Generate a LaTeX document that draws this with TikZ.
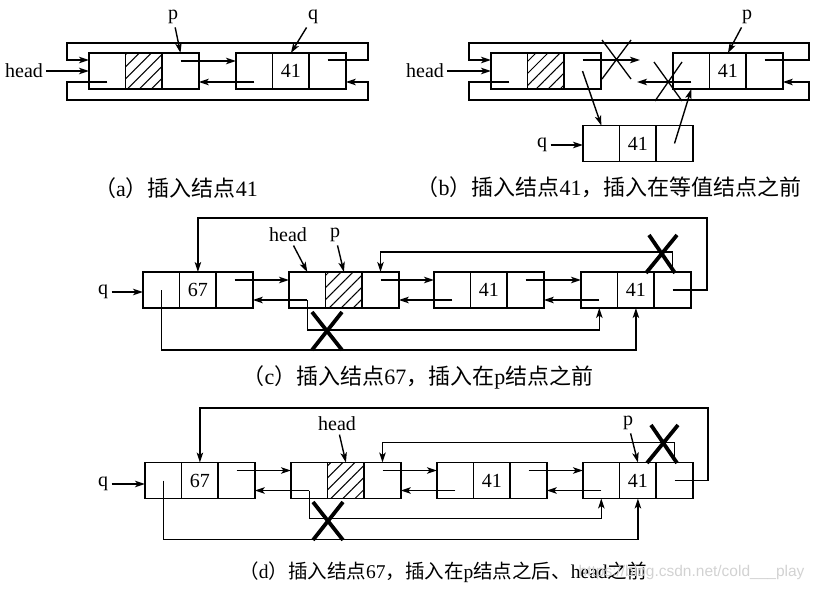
\documentclass[tikz,border=0pt]{standalone}
\usepackage{fontspec}
\setmainfont{Liberation Serif}
\setsansfont{Liberation Sans}
\newfontfamily\cjk{Noto Sans CJK SC}
\usetikzlibrary{positioning,arrows.meta,patterns.meta}

\tikzset{
  cell/.style={draw, line width=1.5pt, minimum width=36.6pt, minimum height=36pt, inner sep=0pt, outer sep=0pt},
  hatch/.style={pattern={Lines[angle=45,distance=8.5pt,line width=1pt]}},
  ptr/.style={line width=1.4pt, -{Stealth[length=10pt,width=6.5pt,inset=2.5pt]}},
  thincross/.style={line width=1.3pt},
  thickcross/.style={line width=3.8pt},
  caption/.style={font=\fontsize{22}{26}\selectfont}
}
\newcommand{\zh}[1]{{\cjk #1}}
% one list node: left cell, data cell, right cell
\newcommand{\dlnode}[5][]{%
  \node[cell, anchor=west] (#2-l) at (#3,#4) {};
  \node[cell, right=0pt of #2-l, #1] (#2-m) {#5};
  \node[cell, right=0pt of #2-m] (#2-r) {};
}

\begin{document}
\begin{tikzpicture}[x=1pt, y=-1pt, font=\fontsize{20}{24}\selectfont]
    \useasboundingbox (0,0) rectangle (816,589);

    % (a) Nodes
    \dlnode[hatch]{ha}{89}{71}{}
    \dlnode{qa}{236}{71}{41}
    \node (heada) at (24,71) {head};
    \node (pa) at (173,17) {p};
    \node (qla) at (313,17) {q};
    \coordinate (a1) at (368,43);
    \coordinate (a2) at (67,60);
    \coordinate (a3) at (67,100);
    \coordinate (a4) at (368,82);

    % (a) Edges
    \draw[ptr] (heada) -- (ha-l);
    \draw[ptr] (pa) -- (ha-r.north);
    \draw[ptr] (qla) -- (qa-m.north);
    \draw[ptr] ([yshift=10pt]ha-r.center) -- ([yshift=10pt]qa-l.west);
    \draw[ptr] ([yshift=-11pt]qa-l.center) -- ([yshift=-11pt]ha-r.east);
    \draw[ptr] ([yshift=11pt]qa-r.center) -| (a1) -| (a2) -- ([yshift=11pt]ha-l.west);
    \draw[ptr] ([yshift=-11pt]ha-l.center) -| (a3) -| (a4) -- ([yshift=-11pt]qa-r.east);
    \node[caption] (capa) at (176,188) {\zh{（}a\zh{）插入结点}41};

    % (b) Nodes
    \dlnode[hatch]{hb}{491}{71}{}
    \dlnode{pb}{673}{71}{41}
    \dlnode{qb}{583}{143.5}{41}
    \node (headb) at (425,71) {head};
    \node (plb) at (747,17) {p};
    \node (qlb) at (542,145) {q};
    \coordinate (b1) at (809,43);
    \coordinate (b2) at (469,60);
    \coordinate (b3) at (469,100);
    \coordinate (b4) at (809,82);
    \coordinate (nxb) at (640,60);
    \coordinate (pvb) at (637,82);

    % (b) Edges
    \draw[ptr] (headb) -- (hb-l);
    \draw[ptr] (plb) -- (pb-m.north);
    \draw[ptr] (qlb.east) -- (qb-l.west |- qlb.east);
    \draw[ptr] ([yshift=11pt]pb-r.center) -| (b1) -| (b2) -- ([yshift=11pt]hb-l.west);
    \draw[ptr] ([yshift=-11pt]hb-l.center) -| (b3) -| (b4) -- ([yshift=-11pt]pb-r.east);
    \draw[ptr] ([yshift=11pt]hb-r.center) -- (nxb);
    \draw[ptr] ([yshift=-11pt]pb-l.center) -- (pvb);
    \draw[ptr] (hb-r.center) -- (qb-l.north);
    \draw[ptr] (qb-r.center) -- (pb-l.south);
    \draw[thincross] (602,40) -- (631,79) (631,40) -- (602,79);
    \draw[thincross] (654,62) -- (682,101) (682,62) -- (655,101);
    \node[caption] (capb) at (609,187) {\zh{（}b\zh{）插入结点}41\zh{，插入在等值结点之前}};

    % (c) Nodes
    \dlnode{qc}{143}{290}{67}
    \dlnode[hatch]{hc}{289}{290}{}
    \dlnode{fc}{434}{290}{41}
    \dlnode{lc}{581}{290}{41}
    \node (qlc) at (103,292) {q};
    \node (headc) at (288,235) {head};
    \node (pc) at (335,235) {p};
    \coordinate (c1) at (707,218);

    % (c) Edges
    \draw[ptr] (qlc.east) -- (qc-l.west |- qlc.east);
    \draw[ptr] (headc) -- (hc-l.north);
    \draw[ptr] (pc) -- (hc-m.north);
    \draw[ptr] ([yshift=10pt]qc-r.center) -- ([yshift=10pt]hc-l.west);
    \draw[ptr] ([yshift=-10pt]hc-l.center) -- ([yshift=-10pt]qc-r.east);
    \draw[ptr] ([yshift=10pt]hc-r.center) -- ([yshift=10pt]fc-l.west);
    \draw[ptr] ([yshift=-10pt]fc-l.center) -- ([yshift=-10pt]hc-r.east);
    \draw[ptr] ([yshift=10pt]fc-r.center) -- ([yshift=10pt]lc-l.west);
    \draw[ptr] ([yshift=-10pt]lc-l.center) -- ([yshift=-10pt]fc-r.east);
    \draw[ptr] (lc-r.center) -| (c1) -| (qc-m.north);
    \draw[ptr] (lc-r.north) |- ([yshift=20pt]hc-r.north) -- (hc-r.north);
    \draw[ptr] ([yshift=-10pt]hc-l.center) |- ([yshift=-22pt]lc-l.south) -- (lc-l.south);
    \draw[ptr] (qc-l.center) |- ([yshift=-42pt]lc-m.south) -- (lc-m.south);
    \draw[thickcross] (312,312) -- (342,350) (342,312) -- (312,350);
    \draw[thickcross] (649,235) -- (675,273) (677,235) -- (646,273);
    \node[caption] (capc) at (418,377) {\zh{（}c\zh{）插入结点}67\zh{，插入在}p\zh{结点之前}};

    % (d) Nodes
    \dlnode{qd}{145}{480.5}{67}
    \dlnode[hatch]{hd}{291}{480.5}{}
    \dlnode{fd}{437}{480.5}{41}
    \dlnode{ld}{583}{480.5}{41}
    \node (qld) at (103,484) {q};
    \node (headd) at (337,424) {head};
    \node (pd) at (628,423) {p};
    \coordinate (d1) at (708,408);

    % (d) Edges
    \draw[ptr] (qld.east) -- (qd-l.west |- qld.east);
    \draw[ptr] (headd) -- (hd-m.north);
    \draw[ptr] (pd) -- (ld-m.north);
    \draw[ptr] ([yshift=10pt]qd-r.center) -- ([yshift=10pt]hd-l.west);
    \draw[ptr] ([yshift=-10pt]hd-l.center) -- ([yshift=-10pt]qd-r.east);
    \draw[ptr] ([yshift=10pt]hd-r.center) -- ([yshift=10pt]fd-l.west);
    \draw[ptr] ([yshift=-10pt]fd-l.center) -- ([yshift=-10pt]hd-r.east);
    \draw[ptr] ([yshift=10pt]fd-r.center) -- ([yshift=10pt]ld-l.west);
    \draw[ptr] ([yshift=-10pt]ld-l.center) -- ([yshift=-10pt]fd-r.east);
    \draw[ptr] (ld-r.center) -| (d1) -| (qd-m.north);
    \draw[ptr] (ld-r.north) |- ([yshift=20pt]hd-r.north) -- (hd-r.north);
    \draw[ptr] ([yshift=-10pt]hd-l.center) |- ([yshift=-20pt]ld-l.south) -- (ld-l.south);
    \draw[ptr] (qd-l.center) |- ([yshift=-41pt]ld-m.south) -- (ld-m.south);
    \draw[thickcross] (313,502) -- (343,540) (343,502) -- (313,540);
    \draw[thickcross] (651,425) -- (677,463) (678,425) -- (647,463);
    \node[caption, font=\fontsize{19.5}{23}\selectfont] (capd) at (443,572) {\zh{（}d\zh{）插入结点}67\zh{，插入在}p\zh{结点之后、}head\zh{之前}};
    \node[anchor=east, text=gray!35, font=\sffamily\fontsize{15.5}{18}\selectfont] (mark) at (808,572) {https://blog.csdn.net/cold\_\_\_play};
\end{tikzpicture}
\end{document}
